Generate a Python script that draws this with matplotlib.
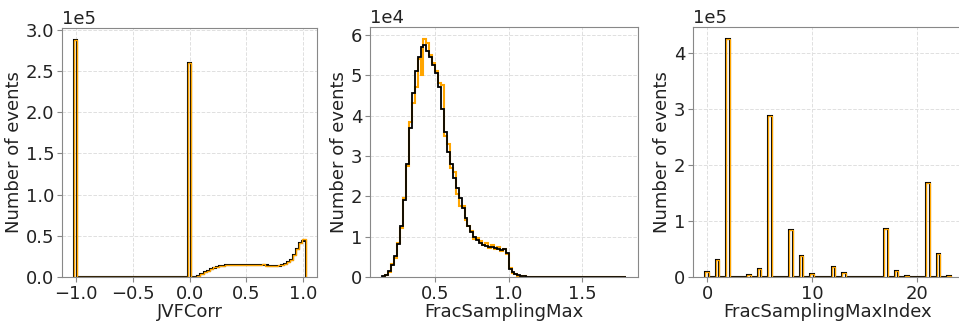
import numpy as np
import matplotlib
matplotlib.use("Agg")
import matplotlib.pyplot as plt
from matplotlib.ticker import MultipleLocator

# JVFCorr histogram (75 bins from -1.02 to 1.02)
jvf_edges = np.linspace(-1.02, 1.02, 76)
jvf_spike_neg = 288000
jvf_spike_zero = 260000
jvf_pos_black = [0, 300, 1500, 3500, 5500, 7500, 9500, 11300, 12600, 13400,
                 13800, 14000, 14100, 14200, 14200, 14300, 14200, 14200, 14100, 14100,
                 14100, 14000, 14000, 13900, 13900, 13700, 13600, 13600, 13800, 14500,
                 15500, 17500, 21000, 26500, 34000, 41000, 44000]
jvf_pos_orange = [0, 200, 1400, 3600, 5400, 7700, 9300, 11500, 12500, 13500,
                  13700, 14100, 14000, 14300, 14100, 14400, 14100, 14300, 14000, 14200,
                  14000, 14100, 14200, 15500, 13800, 13800, 13500, 13700, 13900, 14700,
                  15300, 17800, 20600, 27000, 33500, 41500, 46000]

# FracSamplingMax histogram (83 bins from 0.14 to 1.80), units of 1e4
fsm_edges = np.linspace(0.14, 1.80, 84)
fsm_black = [0.01, 0.05, 0.14, 0.30, 0.52, 0.82, 1.25, 1.90, 2.80, 3.70,
             4.55, 5.10, 5.45, 5.70, 5.75, 5.60, 5.45, 5.25, 5.05, 4.70,
             4.15, 3.60, 3.10, 2.80, 2.45, 2.20, 1.95, 1.70, 1.45, 1.27,
             1.12, 1.00, 0.92, 0.85, 0.80, 0.77, 0.75, 0.73, 0.72, 0.70,
             0.67, 0.69, 0.60, 0.20, 0.12, 0.07, 0.04, 0.02, 0.012, 0.006,
             0.003, 0.002, 0.001, 0.001, 0.001, 0, 0, 0, 0, 0,
             0, 0, 0, 0, 0, 0, 0, 0, 0, 0,
             0, 0, 0, 0, 0, 0, 0, 0, 0, 0,
             0, 0, 0]
fsm_orange = [0.0, 0.04, 0.12, 0.32, 0.48, 0.85, 1.20, 1.95, 2.75, 3.85,
              4.30, 4.70, 5.40, 5.00, 5.90, 5.80, 5.50, 5.30, 5.10, 4.80,
              4.75, 3.50, 3.30, 2.70, 2.60, 2.05, 1.75, 1.75, 1.40, 1.25,
              1.15, 0.95, 0.97, 0.90, 0.78, 0.83, 0.72, 0.80, 0.70, 0.75,
              0.65, 0.70, 0.58, 0.22, 0.10, 0.08, 0.03, 0.02, 0.010, 0.005,
              0.002, 0.001, 0.001, 0, 0, 0, 0, 0, 0, 0,
              0, 0, 0, 0, 0, 0, 0, 0, 0, 0,
              0, 0, 0, 0, 0, 0, 0, 0, 0, 0,
              0, 0, 0]

# FracSamplingMaxIndex counts for index 0..23
idx_values = np.arange(24)
idx_counts = [9000, 30000, 425000, 0, 2500, 14500, 287000, 0, 83500, 37500,
              5000, 0, 18000, 7500, 0, 0, 0, 85500, 10000, 2000,
              0, 167500, 41000, 2000]
idx_edges = np.linspace(-1 / 6, 23 + 1 / 6, 71)

plt.rcParams['font.family'] = 'DejaVu Sans'
fig = plt.figure(figsize=(9.59, 3.25), dpi=100)

ax1 = fig.add_axes([0.0647, 0.148, 0.266, 0.766])
ax2 = fig.add_axes([0.386, 0.148, 0.2795, 0.769])
ax3 = fig.add_axes([0.7226, 0.148, 0.2816, 0.769])


def style(ax, xlabel):
    ax.grid(True, linestyle='--', color='#e0e0e0', linewidth=0.7)
    ax.set_axisbelow(True)
    for s in ax.spines.values():
        s.set_color('#888888')
    ax.tick_params(colors='#888888', labelcolor='#222222', labelsize=13, pad=2)
    ax.set_xlabel(xlabel, fontsize=13, color='#222222', labelpad=0)
    ax.set_ylabel('Number of events', fontsize=13, color='#222222', labelpad=2)
    ax.ticklabel_format(axis='y', style='sci', scilimits=(0, 0))
    ax.yaxis.get_offset_text().set_fontsize(13)


# panel 1
jvf_black = np.zeros(len(jvf_edges) - 1)
jvf_black[0] = jvf_spike_neg
jvf_black[37] = jvf_spike_zero
jvf_black[38:] = jvf_pos_black
jvf_or = jvf_black.copy()
jvf_or[38:] = jvf_pos_orange
ax1.stairs(jvf_black, jvf_edges, color='black', linewidth=1.5)
ax1.stairs(jvf_or, jvf_edges, color='orange', linewidth=1.0)
ax1.xaxis.set_major_locator(MultipleLocator(0.5))
ax1.yaxis.set_major_locator(MultipleLocator(0.5e5))
style(ax1, 'JVFCorr')

# panel 2
ax2.stairs(np.array(fsm_orange) * 1e4, fsm_edges, color='orange', linewidth=1.5)
ax2.stairs(np.array(fsm_black) * 1e4, fsm_edges, color='black', linewidth=1.3)
ax2.xaxis.set_major_locator(MultipleLocator(0.5))
ax2.yaxis.set_major_locator(MultipleLocator(1e4))
style(ax2, 'FracSamplingMax')

# panel 3
idx_hist = np.zeros(len(idx_edges) - 1)
idx_hist[idx_values * 3] = idx_counts
ax3.stairs(idx_hist, idx_edges, color='black', linewidth=1.5)
ax3.stairs(idx_hist, idx_edges, color='orange', linewidth=0.9)
ax3.xaxis.set_major_locator(MultipleLocator(10))
ax3.yaxis.set_major_locator(MultipleLocator(1e5))
style(ax3, 'FracSamplingMaxIndex')

fig.savefig('out.png', dpi=100)
